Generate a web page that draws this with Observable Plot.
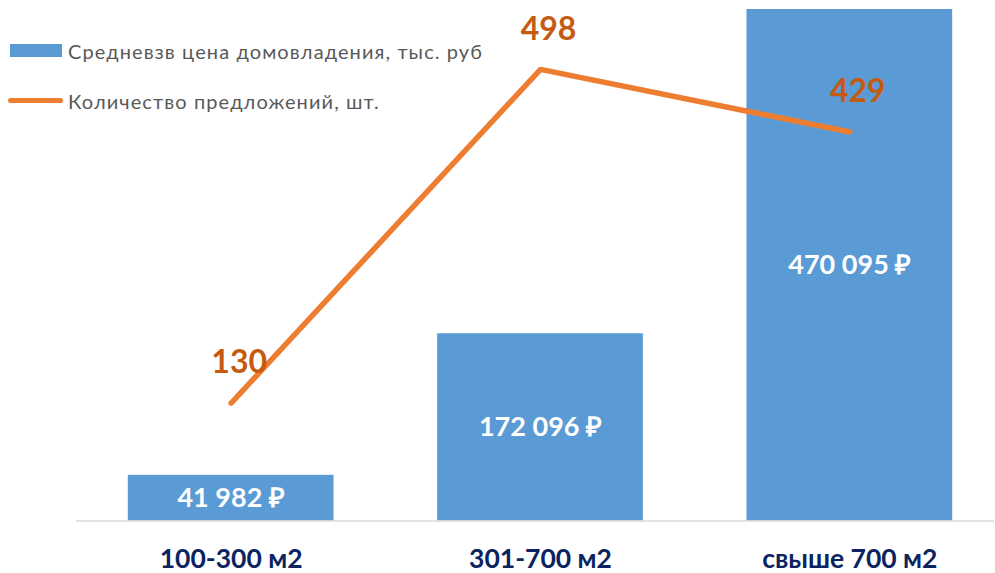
<!DOCTYPE html>
<html>
<head>
<meta charset="utf-8">
<script src="https://cdn.jsdelivr.net/npm/d3@7"></script>
<script src="https://cdn.jsdelivr.net/npm/@observablehq/plot@0.6"></script>
<style>
  html, body { margin: 0; padding: 0; background: #fff; }
  #wrap { position: relative; width: 995px; height: 573px; overflow: hidden; font-family: Lato, "Open Sans", sans-serif; }
  #wrap > svg, #wrap > figure { position: absolute; left: 0; top: 0; margin: 0; }
  .leg { position: absolute; font-size: 20px; letter-spacing: 1.1px; color: #595959; white-space: nowrap; line-height: 1; }
</style>
</head>
<body>
<div id="wrap"></div>
<script>
// Data
const categories = ["100-300 м2", "301-700 м2", "свыше 700 м2"];
const prices = [41982, 172096, 470095];      // Средневзв цена домовладения, тыс. руб
const counts = [130, 498, 429];             // Количество предложений, шт.
const legendLabels = ["Средневзв цена домовладения, тыс. руб", "Количество предложений, шт."];

const data = categories.map((c, i) => ({cat: c, price: prices[i], count: counts[i]}));

const fmt = d3.formatLocale({decimal: ",", thousands: " ", grouping: [3], currency: ["", ""]}).format(",");
const W = 995, H = 573;
const xScale = {domain: categories, range: [76, 1004], paddingInner: 0.335, paddingOuter: 0.1675, round: false};
const yRange = [520.5, 9];

const wrap = document.getElementById("wrap");

const bars = Plot.plot({
  width: W, height: H,
  marginLeft: 76, marginRight: 1, marginTop: 9, marginBottom: 52.5,
  style: {fontFamily: "Lato, 'Open Sans', sans-serif", background: "transparent", overflow: "visible"},
  x: {...xScale, label: null},
  y: {domain: [0, 470095], range: yRange, axis: null},
  marks: [
    Plot.barY(data, {x: "cat", y: "price", fill: "#5B9BD5"}),
    Plot.ruleY([0], {stroke: "#d9d9d9", strokeWidth: 1.5}),
    Plot.text(data, {x: "cat", y: d => d.price / 2, text: d => fmt(d.price) + " ₽",
      fill: "white", fontWeight: "bold", fontSize: 27}),
    Plot.axisX({tickSize: 0, tickPadding: 28, fontSize: 26.5, fontWeight: "bold", fill: "#0b2461", label: null})
  ]
});
wrap.appendChild(bars);

const line = Plot.plot({
  width: W, height: H,
  marginLeft: 76, marginRight: 1, marginTop: 9, marginBottom: 52.5,
  style: {fontFamily: "Lato, 'Open Sans', sans-serif", background: "transparent", overflow: "visible"},
  x: {...xScale, axis: null},
  y: {domain: [0, 564], range: yRange, axis: null},
  marks: [
    Plot.line(data, {x: "cat", y: "count", stroke: "#ED7D31", strokeWidth: 5.5, strokeLinecap: "round", strokeLinejoin: "miter"}),
    Plot.text(data, {x: "cat", y: "count", text: d => String(d.count), dx: 8, dy: -40,
      fill: "#C55A11", fontWeight: "bold", fontSize: 32})
  ]
});
wrap.appendChild(line);

// Legend
const l1 = document.createElement("div");
l1.style.cssText = "position:absolute;left:10px;top:44px;width:52px;height:13px;background:#5B9BD5;";
wrap.appendChild(l1);
const t1 = document.createElement("div");
t1.className = "leg"; t1.textContent = legendLabels[0];
t1.style.left = "68px"; t1.style.top = "41px";
wrap.appendChild(t1);
const l2 = document.createElement("div");
l2.style.cssText = "position:absolute;left:8px;top:98px;width:55px;height:5px;border-radius:3px;background:#ED7D31;";
wrap.appendChild(l2);
const t2 = document.createElement("div");
t2.className = "leg"; t2.textContent = legendLabels[1];
t2.style.left = "68px"; t2.style.top = "91px";
wrap.appendChild(t2);
</script>
</body>
</html>
